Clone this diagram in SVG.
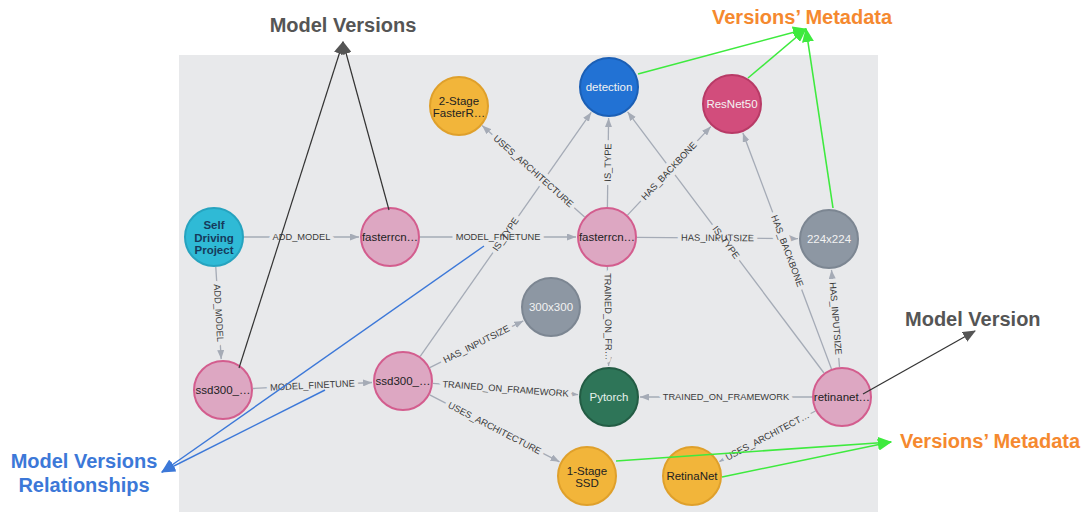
<svg xmlns="http://www.w3.org/2000/svg" width="1090" height="524" viewBox="0 0 1090 524">
<defs>
<marker id="ag" markerUnits="userSpaceOnUse" markerWidth="9" markerHeight="7" refX="9" refY="3.5" orient="auto"><path d="M0,0 L9,3.5 L0,7 z" fill="#A5ABB6"/></marker>
<marker id="ak" markerUnits="userSpaceOnUse" markerWidth="13" markerHeight="11" refX="12" refY="5.5" orient="auto"><path d="M0,0 L13,5.5 L0,11 z" fill="#555"/></marker>
<marker id="agr" markerUnits="userSpaceOnUse" markerWidth="14" markerHeight="12" refX="13" refY="6" orient="auto"><path d="M0,0 L14,6 L0,12 z" fill="#3EEA3E"/></marker>
<marker id="ab" markerUnits="userSpaceOnUse" markerWidth="14" markerHeight="12" refX="13" refY="6" orient="auto"><path d="M0,0 L14,6 L0,12 z" fill="#3C78D8"/></marker>
</defs>
<style>
.n circle{stroke-width:2}
.nt{font-family:"Liberation Sans",Arial,sans-serif;font-size:11.5px;text-anchor:middle;dominant-baseline:central}
.pk circle{fill:#DDA7C2;stroke:#D35D8E}
.pk text{fill:#222}
.yl circle{fill:#F2B53A;stroke:#DFA02B}
.yl text{fill:#222}
.gr circle{fill:#8D97A3;stroke:#7C8692}
.gr text{fill:#F2F2F2}
.e line{stroke:#A5ABB6;stroke-width:1.3;marker-end:url(#ag)}
.lab text{font-family:"Liberation Sans",Arial,sans-serif;font-size:9.3px;text-anchor:middle;dominant-baseline:central}
.halo text{fill:none;stroke:#E8E9EB;stroke-width:8px;stroke-linejoin:round}
.txt text{fill:#3a3a3a}
.ann{font-family:"Liberation Sans",Arial,sans-serif;font-weight:bold;font-size:20px}
.kl{stroke:#333;stroke-width:1.2;fill:none}
.gl{stroke:#3EEA3E;stroke-width:1.6;fill:none}
.bl{stroke:#3C78D8;stroke-width:1.4;fill:none}
</style>
<rect x="0" y="0" width="1090" height="524" fill="#ffffff"/>
<rect x="179" y="55" width="699" height="457" fill="#E8E9EB"/>

<g id="connectors">
<g class="e">
<line x1="244" y1="237" x2="359" y2="237"/>
<line x1="215.8" y1="266.9" x2="221.2" y2="359.1"/>
<line x1="420" y1="237" x2="576" y2="237"/>
<line x1="253" y1="388.5" x2="372" y2="382.5"/>
<line x1="584.6" y1="217" x2="482.1" y2="125.6"/>
<line x1="607.4" y1="207" x2="608.6" y2="118"/>
<line x1="627.5" y1="215.1" x2="710.8" y2="126.6"/>
<line x1="637" y1="237.3" x2="798" y2="238.7"/>
<line x1="607.4" y1="267" x2="608.6" y2="366"/>
<line x1="420.2" y1="356.4" x2="591.2" y2="112.4"/>
<line x1="429.8" y1="367.6" x2="523.3" y2="320.9"/>
<line x1="432.9" y1="383.3" x2="578.1" y2="394.6"/>
<line x1="429.7" y1="394.8" x2="559.5" y2="461.8"/>
<line x1="812" y1="397" x2="640" y2="397"/>
<line x1="815.5" y1="411" x2="719.4" y2="461.6"/>
<line x1="839.5" y1="367.1" x2="831.5" y2="269.9"/>
<line x1="831.5" y1="368.9" x2="742.9" y2="133"/>
<line x1="824" y1="373" x2="627.6" y2="111.8"/>
</g>
<g class="lab halo">
<text transform="translate(301.5,237)">ADD_MODEL</text>
<text transform="translate(218.5,313) rotate(86.6)">ADD_MODEL</text>
<text transform="translate(498,237)">MODEL_FINETUNE</text>
<text transform="translate(312.5,385.5) rotate(-2.9)">MODEL_FINETUNE</text>
<text transform="translate(533.4,171.3) rotate(41.7)">USES_ARCHITECTURE</text>
<text transform="translate(608,162.5) rotate(-89.2)">IS_TYPE</text>
<text transform="translate(669,171) rotate(-46.8)">HAS_BACKBONE</text>
<text transform="translate(717.5,238) rotate(0.5)">HAS_INPUTSIZE</text>
<text transform="translate(608,316.5) rotate(89.3)">TRAINED_ON_FR…</text>
<text transform="translate(505.7,234.4) rotate(-55)">IS_TYPE</text>
<text transform="translate(476.5,344.2) rotate(-26.6)">HAS_INPUTSIZE</text>
<text transform="translate(505.5,389) rotate(4.4)">TRAINED_ON_FRAMEWORK</text>
<text transform="translate(494.6,428.3) rotate(27.3)">USES_ARCHITECTURE</text>
<text transform="translate(726,397)">TRAINED_ON_FRAMEWORK</text>
<text transform="translate(767.4,436.3) rotate(-27.8)">USES_ARCHITECT…</text>
<text transform="translate(835.5,318.5) rotate(85.3)">HAS_INPUTSIZE</text>
<text transform="translate(787.2,251) rotate(69.4)">HAS_BACKBONE</text>
<text transform="translate(725.8,242.4) rotate(53.1)">IS_TYPE</text>
</g>
<g class="lab txt">
<text transform="translate(301.5,237)">ADD_MODEL</text>
<text transform="translate(218.5,313) rotate(86.6)">ADD_MODEL</text>
<text transform="translate(498,237)">MODEL_FINETUNE</text>
<text transform="translate(312.5,385.5) rotate(-2.9)">MODEL_FINETUNE</text>
<text transform="translate(533.4,171.3) rotate(41.7)">USES_ARCHITECTURE</text>
<text transform="translate(608,162.5) rotate(-89.2)">IS_TYPE</text>
<text transform="translate(669,171) rotate(-46.8)">HAS_BACKBONE</text>
<text transform="translate(717.5,238) rotate(0.5)">HAS_INPUTSIZE</text>
<text transform="translate(608,316.5) rotate(89.3)">TRAINED_ON_FR…</text>
<text transform="translate(505.7,234.4) rotate(-55)">IS_TYPE</text>
<text transform="translate(476.5,344.2) rotate(-26.6)">HAS_INPUTSIZE</text>
<text transform="translate(505.5,389) rotate(4.4)">TRAINED_ON_FRAMEWORK</text>
<text transform="translate(494.6,428.3) rotate(27.3)">USES_ARCHITECTURE</text>
<text transform="translate(726,397)">TRAINED_ON_FRAMEWORK</text>
<text transform="translate(767.4,436.3) rotate(-27.8)">USES_ARCHITECT…</text>
<text transform="translate(835.5,318.5) rotate(85.3)">HAS_INPUTSIZE</text>
<text transform="translate(787.2,251) rotate(69.4)">HAS_BACKBONE</text>
<text transform="translate(725.8,242.4) rotate(53.1)">IS_TYPE</text>
</g>
</g>

<g id="n-project" class="n"><circle cx="214" cy="237" r="29" fill="#2FBAD6" stroke="#26A3BF"/><text class="nt" fill="#163a5c" font-weight="bold"><tspan x="214" y="225">Self</tspan><tspan x="214" y="237.5">Driving</tspan><tspan x="214" y="250">Project</tspan></text></g>
<g id="n-fasterrcnn1" class="n pk"><circle cx="390" cy="237" r="29"/><text class="nt" x="390" y="237">fasterrcn…</text></g>
<g id="n-fasterrcnn2" class="n pk"><circle cx="607" cy="237" r="29"/><text class="nt" x="607" y="237">fasterrcn…</text></g>
<g id="n-ssd1" class="n pk"><circle cx="223" cy="390" r="29"/><text class="nt" x="223" y="390">ssd300_…</text></g>
<g id="n-ssd2" class="n pk"><circle cx="403" cy="381" r="29"/><text class="nt" x="403" y="381">ssd300_…</text></g>
<g id="n-retinanet" class="n pk"><circle cx="842" cy="397" r="29"/><text class="nt" x="842" y="397">retinanet…</text></g>
<g id="n-detection" class="n"><circle cx="609" cy="87" r="29" fill="#2272D4" stroke="#1B5FB5"/><text class="nt" x="609" y="87" fill="#F2F2F2">detection</text></g>
<g id="n-resnet50" class="n"><circle cx="732" cy="104" r="29" fill="#D24D7C" stroke="#B83A66"/><text class="nt" x="732" y="104" fill="#F4F4F4">ResNet50</text></g>
<g id="n-2stage" class="n yl"><circle cx="459" cy="106" r="29"/><text class="nt"><tspan x="459" y="101">2-Stage</tspan><tspan x="459" y="113">FasterR…</tspan></text></g>
<g id="n-1stage" class="n yl"><circle cx="587" cy="476" r="29"/><text class="nt"><tspan x="587" y="471">1-Stage</tspan><tspan x="587" y="483">SSD</tspan></text></g>
<g id="n-retinanet-arch" class="n yl"><circle cx="692" cy="476" r="29"/><text class="nt" x="692" y="476">RetinaNet</text></g>
<g id="n-224" class="n gr"><circle cx="829" cy="239" r="29"/><text class="nt" x="829" y="239">224x224</text></g>
<g id="n-300" class="n gr"><circle cx="551" cy="307" r="29"/><text class="nt" x="551" y="307">300x300</text></g>
<g id="n-pytorch" class="n"><circle cx="609" cy="397" r="29" fill="#2E7558" stroke="#235C44"/><text class="nt" x="609" y="397" fill="#E6F2EC">Pytorch</text></g>

<g id="annotations">
<line class="kl" x1="239" y1="368" x2="343" y2="42" marker-end="url(#ak)"/>
<line class="kl" x1="389" y1="210" x2="343" y2="42" marker-end="url(#ak)"/>
<line class="kl" x1="863" y1="394" x2="975" y2="331" marker-end="url(#ak)"/>
<line class="gl" x1="638" y1="74" x2="806" y2="29" marker-end="url(#agr)"/>
<line class="gl" x1="748" y1="78" x2="806" y2="29" marker-end="url(#agr)"/>
<line class="gl" x1="833" y1="208" x2="806" y2="29" marker-end="url(#agr)"/>
<line class="gl" x1="616" y1="461" x2="891" y2="442" marker-end="url(#agr)"/>
<line class="gl" x1="722" y1="477" x2="891" y2="442" marker-end="url(#agr)"/>
<line class="bl" x1="484" y1="246" x2="162" y2="472" marker-end="url(#ab)"/>
<line class="bl" x1="325" y1="390" x2="162" y2="472" marker-end="url(#ab)"/>
<text class="ann" x="343" y="32" text-anchor="middle" fill="#555555">Model Versions</text>
<text class="ann" x="712" y="24" fill="#F5892F">Versions’ Metadata</text>
<text class="ann" x="905" y="326" fill="#555555">Model Version</text>
<text class="ann" x="900" y="448" fill="#F5892F">Versions’ Metadata</text>
<text class="ann" x="84" y="468" text-anchor="middle" fill="#3C78D8">Model Versions</text>
<text class="ann" x="84" y="492" text-anchor="middle" fill="#3C78D8">Relationships</text>
</g>
</svg>
